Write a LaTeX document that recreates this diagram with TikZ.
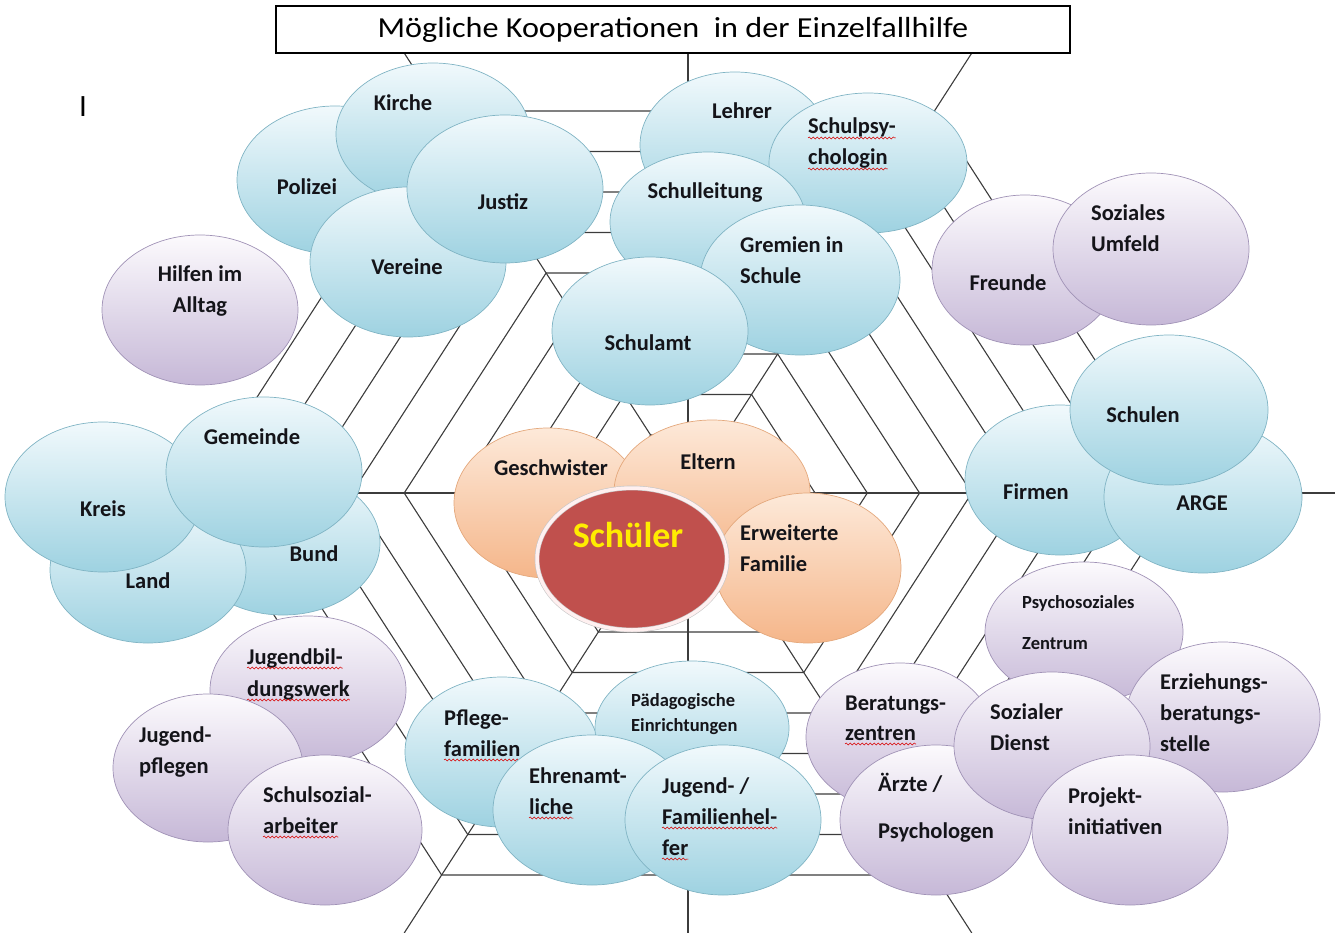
\documentclass[tikz,border=0pt]{standalone}
\usepackage{fontspec}
\setmainfont{Carlito}
\usepackage{graphicx}
\usetikzlibrary{shapes.geometric, decorations.pathmorphing}
\definecolor{webgray}{RGB}{60, 60, 60}
\definecolor{bluetop}{RGB}{241, 249, 252}
\definecolor{bluebot}{RGB}{158, 210, 225}
\definecolor{blueline}{RGB}{128, 180, 196}
\definecolor{lilatop}{RGB}{252, 250, 253}
\definecolor{lilabot}{RGB}{198, 184, 215}
\definecolor{lilaline}{RGB}{160, 146, 182}
\definecolor{peachtop}{RGB}{253, 233, 217}
\definecolor{peachbot}{RGB}{245, 182, 138}
\definecolor{peachline}{RGB}{228, 168, 124}
\definecolor{schuelerred}{RGB}{192, 80, 77}
\definecolor{schuelergelb}{RGB}{255, 236, 0}
\definecolor{textdark}{RGB}{20, 20, 25}

\tikzset{
  web/.style={draw=webgray, line width=1.1pt, line join=miter},
  bub/.style={ellipse, inner sep=0pt, line width=0.7pt},
  bubsize/.style 2 args={minimum width=#1pt, minimum height=#2pt},
  bluebub/.style={bub, draw=blueline, top color=bluetop, bottom color=bluebot},
  lilabub/.style={bub, draw=lilaline, top color=lilatop, bottom color=lilabot},
  peachbub/.style={bub, draw=peachline, top color=peachtop, bottom color=peachbot},
  lbl/.style={font=\fontsize{22.5}{31}\selectfont\bfseries, text=textdark, inner sep=0pt},
  lblleft/.style={lbl, align=left, anchor=west},
  lblline/.style={lbl, anchor=base west},
  smalllbl/.style={font=\fontsize{18.5}{25}\selectfont\bfseries},
  spell/.style={draw=red!85!black, line width=0.5pt, decorate,
                decoration={snake, amplitude=1.1pt, segment length=4pt}}
}
% red spell-check wave under a text line
\newcommand{\wavy}[1]{\draw[spell] ([yshift=-4pt]#1.base west) -- ([yshift=-4pt]#1.base east);}

\begin{document}
\begin{tikzpicture}[x=1pt, y=-1pt]
    \useasboundingbox (0,0) rectangle (1335,933);

    % Spider web
    \coordinate (mid) at (688,493);
    \foreach \k in {0,...,8}{
        \pgfmathsetmacro{\r}{58+40.5*\k}
        \draw[web] ({688+1.29*\r},493) -- ({688+0.645*\r},{493-\r}) -- ({688-0.645*\r},{493-\r})
            -- ({688-1.29*\r},493) -- ({688-0.645*\r},{493+\r}) -- ({688+0.645*\r},{493+\r}) -- cycle;
    }
    \draw[web] (688,53) -- (mid) -- (688,933);
    \draw[web] (10,493) -- (mid) -- (1335,493);
    \draw[web] ({688-0.645*440},53) -- (mid) -- ({688+0.645*440},933);
    \draw[web] ({688+0.645*440},53) -- (mid) -- ({688-0.645*440},933);

    % Title
    \node[draw=black, line width=1.3pt, fill=white, minimum width=794pt, minimum height=47pt,
          inner sep=0pt, font=\fontsize{29}{29}\selectfont] (titel) at (673,29.5)
          {\scalebox{1.11}[1]{Mögliche Kooperationen\ \ in der Einzelfallhilfe}};
    \node[font=\fontsize{31}{31}\selectfont, inner sep=0pt] (cursor) at (83,107) {I};

    % Upper left
    \node[bluebub, bubsize={196}{148}] (polizei) at (335,180) {};
    \node[lbl] (polizeitext) at (307,187) {Polizei};
    \node[bluebub, bubsize={194}{142}] (kirche) at (433,134) {};
    \node[lbl] (kirchetext) at (403,103) {Kirche};
    \node[bluebub, bubsize={196}{150}] (vereine) at (408,262) {};
    \node[lbl] (vereinetext) at (407,267) {Vereine};
    \node[bluebub, bubsize={196}{148}] (justiz) at (505,189) {};
    \node[lbl] (justiztext) at (503,202) {Justiz};
    \node[lilabub, bubsize={196}{150}] (hilfen) at (200,310) {};
    \node[lbl, align=center] (hilfentext) at (200,291) {Hilfen im\\Alltag};

    % Upper middle
    \node[bluebub, bubsize={190}{146}] (lehrer) at (735,145) {};
    \node[lbl] (lehrertext) at (742,111) {Lehrer};
    \node[bluebub, bubsize={198}{140}] (psych) at (868,163) {};
    \node[lblline] (psychA) at (808,134) {Schulpsy-};
    \node[lblline] (psychB) at (808,165) {chologin};
    \wavy{psychA} \wavy{psychB}
    \node[bluebub, bubsize={196}{140}] (leitung) at (708,222) {};
    \node[lbl] (leitungtext) at (705,193) {Schulleitung};
    \node[bluebub, bubsize={200}{150}] (gremien) at (800,280) {};
    \node[lblleft] (gremientext) at (740,260.5) {Gremien in\\Schule};
    \node[bluebub, bubsize={196}{148}] (schulamt) at (650,331) {};
    \node[lbl] (schulamttext) at (648,343) {Schulamt};

    % Upper right
    \node[lilabub, bubsize={186}{150}] (freunde) at (1025,270) {};
    \node[lbl] (freundetext) at (1008,283) {Freunde};
    \node[lilabub, bubsize={196}{152}] (umfeld) at (1151,249) {};
    \node[lblleft] (umfeldtext) at (1091,228.5) {Soziales\\Umfeld};

    % Right
    \node[bluebub, bubsize={190}{150}] (firmen) at (1060,480) {};
    \node[lbl] (firmentext) at (1036,492) {Firmen};
    \node[bluebub, bubsize={198}{152}] (arge) at (1203,497) {};
    \node[lbl] (argetext) at (1202,503) {ARGE};
    \node[bluebub, bubsize={198}{150}] (schulen) at (1169,410) {};
    \node[lbl] (schulentext) at (1143,415) {Schulen};

    % Left
    \node[bluebub, bubsize={194}{144}] (bund) at (283,543) {};
    \node[lbl] (bundtext) at (314,554) {Bund};
    \node[bluebub, bubsize={196}{146}] (land) at (148,570) {};
    \node[lbl] (landtext) at (148,581) {Land};
    \node[bluebub, bubsize={196}{150}] (kreis) at (103,497) {};
    \node[lbl] (kreistext) at (103,509) {Kreis};
    \node[bluebub, bubsize={196}{150}] (gemeinde) at (264,472) {};
    \node[lbl] (gemeindetext) at (252,437) {Gemeinde};

    % Centre
    \node[peachbub, bubsize={188}{150}] (geschwister) at (548,503) {};
    \node[lbl] (geschwistertext) at (551,468) {Geschwister};
    \node[peachbub, bubsize={196}{144}] (eltern) at (712,492) {};
    \node[lbl] (elterntext) at (708,462) {Eltern};
    \node[peachbub, bubsize={186}{150}] (familie) at (808,568) {};
    \node[lblleft] (familietext) at (740,548.5) {Erweiterte\\Familie};
    \node[ellipse, inner sep=0pt, bubsize={190}{142}, fill=schuelerred, draw=black!22, line width=0.6pt,
          double=red!6, double distance=3.5pt] (schueler) at (632,559) {};
    \node[lbl, font=\fontsize{36}{36}\selectfont\bfseries, text=schuelergelb] (schuelertext) at (628,535) {Schüler};

    % Lower left
    \node[lilabub, bubsize={196}{148}] (bildung) at (308,690) {};
    \node[lblline] (bildungA) at (247,664) {Jugendbil-};
    \node[lblline] (bildungB) at (247,696) {dungswerk};
    \wavy{bildungA} \wavy{bildungB}
    \node[lilabub, bubsize={190}{148}] (pflegen) at (208,768) {};
    \node[lblleft] (pflegentext) at (139,752.5) {Jugend-\\pflegen};
    \node[lilabub, bubsize={194}{150}] (sozialarb) at (325,830) {};
    \node[lblline] (sozialarbA) at (263,802) {Schulsozial-};
    \node[lblline] (sozialarbB) at (263,833) {arbeiter};
    \wavy{sozialarbB}

    % Lower middle
    \node[bluebub, bubsize={194}{150}] (pflege) at (502,752) {};
    \node[lblline] (pflegeA) at (444,725) {Pflege-};
    \node[lblline] (pflegeB) at (444,756) {familien};
    \wavy{pflegeB}
    \node[bluebub, bubsize={194}{134}] (paed) at (692,728) {};
    \node[lblleft, smalllbl] (paedtext) at (631,714.5) {Pädagogische\\Einrichtungen};
    \node[bluebub, bubsize={198}{150}] (ehrenamt) at (592,810) {};
    \node[lblline] (ehrenamtA) at (529,783) {Ehrenamt-};
    \node[lblline] (ehrenamtB) at (529,814) {liche};
    \wavy{ehrenamtB}
    \node[bluebub, bubsize={196}{150}] (helfer) at (723,820) {};
    \node[lblline] (helferA) at (662,793) {Jugend- /};
    \node[lblline] (helferB) at (662,824) {Familienhel-};
    \node[lblline] (helferC) at (662,855) {fer};
    \wavy{helferB} \wavy{helferC}

    % Lower right
    \node[lilabub, bubsize={188}{148}] (beratung) at (900,737) {};
    \node[lblline] (beratungA) at (845,710) {Beratungs-};
    \node[lblline] (beratungB) at (845,740) {zentren};
    \wavy{beratungB}
    \node[lilabub, bubsize={192}{150}] (aerzte) at (936,820) {};
    \node[lblleft, font=\fontsize{22.5}{47}\selectfont\bfseries] (aerztetext) at (878,808) {Ärzte /\\Psychologen};
    \node[lilabub, bubsize={198}{140}] (psychosozial) at (1084,632) {};
    \node[lblleft, font=\fontsize{18.5}{41}\selectfont\bfseries] (psychosozialtext) at (1022,622.5) {Psychosoziales\\Zentrum};
    \node[lilabub, bubsize={194}{150}] (erziehung) at (1223,717) {};
    \node[lblleft] (erziehungtext) at (1160,712.5) {Erziehungs-\\beratungs-\\stelle};
    \node[lilabub, bubsize={196}{148}] (dienst) at (1052,746) {};
    \node[lblleft] (diensttext) at (990,727.5) {Sozialer\\Dienst};
    \node[lilabub, bubsize={196}{150}] (projekt) at (1130,830) {};
    \node[lblleft] (projekttext) at (1068,811) {Projekt-\\initiativen};
\end{tikzpicture}
\end{document}
